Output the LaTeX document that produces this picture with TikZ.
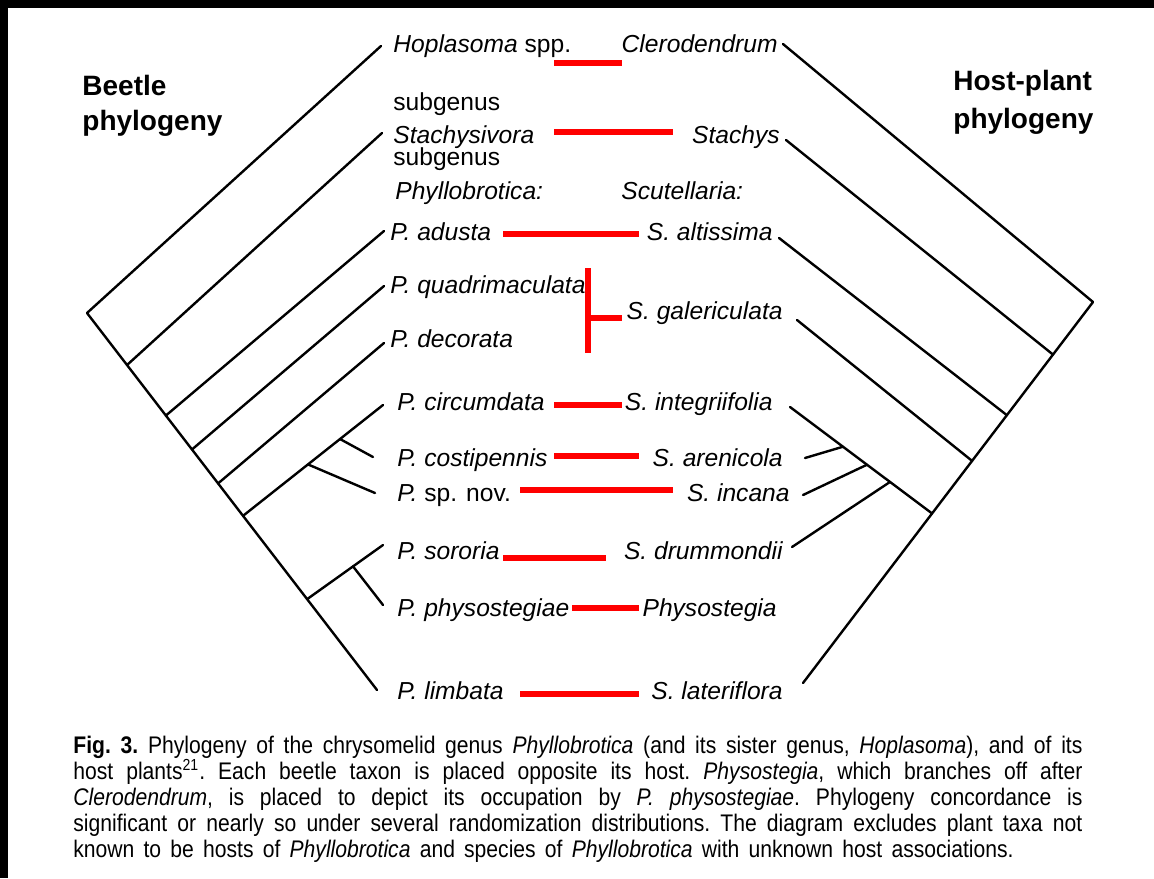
\documentclass[tikz,border=0pt]{standalone}
\usepackage{fontspec}
\setmainfont{Liberation Sans}
\newfontfamily\capfont[FakeStretch=0.88]{Liberation Sans}
\usetikzlibrary{calc}
\begin{document}
\begin{tikzpicture}[x=0.5pt,y=-0.5pt,
  branch/.style={line width=1.2pt, line cap=round, line join=round},
  link/.style={red, line width=3.2pt},
  taxon/.style={font=\fontsize{12.3}{14}\selectfont\itshape, inner sep=0pt},
  plain/.style={font=\fontsize{12.3}{14}\selectfont\upshape, inner sep=0pt},
  heading/.style={font=\fontsize{14}{17}\selectfont\bfseries, inner sep=0pt, anchor=base west},
]
% page and frame
\fill[white] (0,0) rectangle (1154,878);
\fill[black] (0,0) rectangle (1154,8);
\fill[black] (0,0) rectangle (8,878);
\useasboundingbox (0,0) rectangle (1154,878);

% headings
\node[heading] (bt1) at (82,95) {Beetle};
\node[heading] (bt2) at (82,130) {phylogeny};
\node[heading] (hp1) at (953,90) {Host-plant};
\node[heading] (hp2) at (953,128) {phylogeny};

% beetle taxa
\node[taxon, anchor=base west] (hop) at (393,52) {Hoplasoma \upshape spp.};
\node[plain, anchor=base west] (sg1) at (393,110) {subgenus};
\node[taxon, anchor=base west] (sta) at (393,143) {Stachysivora};
\node[plain, anchor=base west] (sg2) at (393,165) {subgenus};
\node[taxon, anchor=base west] (phy) at (395,199) {Phyllobrotica:};
\node[taxon, anchor=base west] (adu) at (390,240) {P. adusta};
\node[taxon, anchor=base west] (qua) at (390,293) {P. quadrimaculata};
\node[taxon, anchor=base west] (dec) at (390,347) {P. decorata};
\node[taxon, anchor=base west] (cir) at (397,410) {P. circumdata};
\node[taxon, anchor=base west] (cos) at (397,466) {P. costipennis};
\node[taxon, anchor=base west] (spn) at (397,501) {P. \upshape sp. nov.};
\node[taxon, anchor=base west] (sor) at (397,559) {P. sororia};
\node[taxon, anchor=base west] (pph) at (397,616) {P. physostegiae};
\node[taxon, anchor=base west] (lim) at (397,699) {P. limbata};

% host-plant taxa
\node[taxon, anchor=base east] (cle) at (778,52) {Clerodendrum};
\node[taxon, anchor=base east] (stc) at (780,143) {Stachys};
\node[taxon, anchor=base west] (scu) at (621,199) {Scutellaria:};
\node[taxon, anchor=base east] (alt) at (773,240) {S. altissima};
\node[taxon, anchor=base east] (gal) at (783,319) {S. galericulata};
\node[taxon, anchor=base east] (int) at (773,410) {S. integriifolia};
\node[taxon, anchor=base east] (are) at (783,466) {S. arenicola};
\node[taxon, anchor=base east] (inc) at (790,501) {S. incana};
\node[taxon, anchor=base east] (dru) at (783,559) {S. drummondii};
\node[taxon, anchor=base east] (phg) at (777,616) {Physostegia};
\node[taxon, anchor=base east] (lat) at (783,699) {S. lateriflora};

% beetle tree
\coordinate (L0) at (87,313);
\coordinate (tHop) at (381,46);
\coordinate (tLim) at (377,690);
\coordinate (n1) at ($(L0)!0.138!(tLim)$);
\coordinate (n2) at ($(L0)!0.272!(tLim)$);
\coordinate (n3) at ($(L0)!0.362!(tLim)$);
\coordinate (n4) at ($(L0)!0.452!(tLim)$);
\coordinate (n5) at ($(L0)!0.538!(tLim)$);
\coordinate (n6) at ($(L0)!0.759!(tLim)$);
\coordinate (tSta) at (382,133);
\coordinate (tAdu) at (384,231);
\coordinate (tQua) at (384,286);
\coordinate (tDec) at (384,343);
\coordinate (tCir) at (383,405);
\coordinate (tCos) at (373,457);
\coordinate (tSpn) at (375,493);
\coordinate (tSor) at (383,545);
\coordinate (tPhy) at (383,605);
\coordinate (c1) at ($(n5)!0.464!(tCir)$);
\coordinate (c2) at ($(n5)!0.693!(tCir)$);
\coordinate (s1) at ($(n6)!0.605!(tSor)$);

\draw[branch] (tHop) -- (L0) -- (tLim);
\draw[branch] (n1) -- (tSta);
\draw[branch] (n2) -- (tAdu);
\draw[branch] (n3) -- (tQua);
\draw[branch] (n4) -- (tDec);
\draw[branch] (n5) -- (tCir);
\draw[branch] (c1) -- (tSpn);
\draw[branch] (c2) -- (tCos);
\draw[branch] (n6) -- (tSor);
\draw[branch] (s1) -- (tPhy);

% host-plant tree
\coordinate (R0) at (1093,302);
\coordinate (tCle) at (783,44);
\coordinate (tLat) at (803,683);
\coordinate (m1) at ($(R0)!0.138!(tLat)$);
\coordinate (m2) at ($(R0)!0.297!(tLat)$);
\coordinate (m3) at ($(R0)!0.417!(tLat)$);
\coordinate (m4) at ($(R0)!0.555!(tLat)$);
\coordinate (tStc) at (786,140);
\coordinate (tAlt) at (779,238);
\coordinate (tGal) at (797,320);
\coordinate (tInt) at (790,407);
\coordinate (tAre) at (805,458);
\coordinate (tInc) at (803,495);
\coordinate (tDru) at (792,547);
\coordinate (d1) at ($(m4)!0.627!(tInt)$);
\coordinate (d2) at ($(m4)!0.458!(tInt)$);
\coordinate (d3) at ($(m4)!0.296!(tInt)$);

\draw[branch] (tCle) -- (R0) -- (tLat);
\draw[branch] (m1) -- (tStc);
\draw[branch] (m2) -- (tAlt);
\draw[branch] (m3) -- (tGal);
\draw[branch] (m4) -- (tInt);
\draw[branch] (d1) -- (tAre);
\draw[branch] (d2) -- (tInc);
\draw[branch] (d3) -- (tDru);

% host associations
\coordinate (a1) at (554,63);  \coordinate (b1) at (622,63);
\coordinate (a2) at (554,132); \coordinate (b2) at (673,132);
\coordinate (a3) at (503,234); \coordinate (b3) at (639,234);
\coordinate (k1) at (588,268); \coordinate (k2) at (588,353);
\coordinate (k3) at (588,318); \coordinate (b4) at (622,318);
\coordinate (a5) at (554,405); \coordinate (b5) at (622,405);
\coordinate (a6) at (554,456); \coordinate (b6) at (639,456);
\coordinate (a7) at (520,490); \coordinate (b7) at (673,490);
\coordinate (a8) at (503,558); \coordinate (b8) at (606,558);
\coordinate (a9) at (572,608); \coordinate (b9) at (639,608);
\coordinate (a10) at (520,694); \coordinate (b10) at (639,694);

\draw[link] (a1) -- (b1);
\draw[link] (a2) -- (b2);
\draw[link] (a3) -- (b3);
\draw[link] (k1) -- (k2);
\draw[link] (k3) -- (b4);
\draw[link] (a5) -- (b5);
\draw[link] (a6) -- (b6);
\draw[link] (a7) -- (b7);
\draw[link] (a8) -- (b8);
\draw[link] (a9) -- (b9);
\draw[link] (a10) -- (b10);

% caption
\node[anchor=base west, inner sep=0pt] (cap) at (73,753) {\parbox[t]{504.5pt}{\capfont\fontsize{12}{13}\selectfont\frenchspacing\hyphenpenalty=10000
\spaceskip=4.6pt plus 3pt minus 1.6pt
\textbf{Fig. 3.} Phylogeny of the chrysomelid genus \textit{Phyllobrotica} (and its sister genus, \textit{Hoplasoma}), and of its\linebreak
host plants\textsuperscript{21}. Each beetle taxon is placed opposite its host. \textit{Physostegia}, which branches off after\linebreak
\textit{Clerodendrum}, is placed to depict its occupation by \textit{P. physostegiae}. Phylogeny concordance is\linebreak
significant or nearly so under several randomization distributions. The diagram excludes plant taxa not\linebreak
known to be hosts of \textit{Phyllobrotica} and species of \textit{Phyllobrotica} with unknown host associations.}};
\end{tikzpicture}
\end{document}
